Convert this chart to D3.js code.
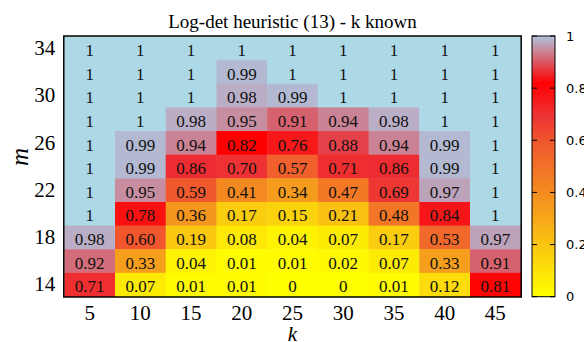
<!DOCTYPE html>
<html>
<head>
<meta charset="utf-8">
<script src="https://cdn.jsdelivr.net/npm/d3@7"></script>
<style>
  body { margin: 0; background: #fff; }
  svg { display: block; }
</style>
</head>
<body>
<svg id="chart" width="584" height="342"></svg>
<script>
const kValues = [5, 10, 15, 20, 25, 30, 35, 40, 45];
const mValues = [34, 32, 30, 28, 26, 24, 22, 20, 18, 16, 14];
const mTickLabels = [34, 30, 26, 22, 18, 14];
const cbTicks = [0, 0.2, 0.4, 0.6, 0.8, 1];

// one row per m, top (34) to bottom (14), columns follow kValues
const successRate = [
  [1, 1, 1, 1, 1, 1, 1, 1, 1],
  [1, 1, 1, 0.99, 1, 1, 1, 1, 1],
  [1, 1, 1, 0.98, 0.99, 1, 1, 1, 1],
  [1, 1, 0.98, 0.95, 0.91, 0.94, 0.98, 1, 1],
  [1, 0.99, 0.94, 0.82, 0.76, 0.88, 0.94, 0.99, 1],
  [1, 0.99, 0.86, 0.70, 0.57, 0.71, 0.86, 0.99, 1],
  [1, 0.95, 0.59, 0.41, 0.34, 0.47, 0.69, 0.97, 1],
  [1, 0.78, 0.36, 0.17, 0.15, 0.21, 0.48, 0.84, 1],
  [0.98, 0.60, 0.19, 0.08, 0.04, 0.07, 0.17, 0.53, 0.97],
  [0.92, 0.33, 0.04, 0.01, 0.01, 0.02, 0.07, 0.33, 0.91],
  [0.71, 0.07, 0.01, 0.01, 0, 0, 0.01, 0.12, 0.81]
];

const paletteStops = [0, 0.36, 0.58, 0.70, 0.82, 1];
const paletteColors = ["#ffff00", "#f5961e", "#f05c2d", "#ee3234", "#ff0000", "#b0c4de"];

const svg = d3.select("#chart");
const plot = { left: 64.3, right: 520.7, top: 36.5, bottom: 296.5 };
const serif = "'Liberation Serif', 'Times New Roman', serif";

const x = d3.scaleBand().domain(kValues).range([plot.left, plot.right]);
const y = d3.scaleBand().domain(mValues).range([plot.top, plot.bottom]);
const color = d3.scaleLinear().domain(paletteStops).range(paletteColors)
  .interpolate(d3.interpolateRgb);
const cellColor = v => v >= 1 ? "#add8e6" : color(v);
const fmt = v => (v === 0 || v === 1) ? String(v) : v.toFixed(2);

const cells = [];
successRate.forEach((row, i) => row.forEach((v, j) => {
  cells.push({ m: mValues[i], k: kValues[j], v: v });
}));

// cells
svg.append("g")
  .selectAll("rect")
  .data(cells)
  .join("rect")
  .attr("x", d => x(d.k))
  .attr("y", d => y(d.m))
  .attr("width", x.bandwidth() + 0.5)
  .attr("height", y.bandwidth() + 0.5)
  .attr("fill", d => cellColor(d.v));

svg.append("g")
  .selectAll("text")
  .data(cells)
  .join("text")
  .attr("x", d => x(d.k) + x.bandwidth() / 2)
  .attr("y", d => y(d.m) + y.bandwidth() / 2)
  .attr("dy", "0.45em")
  .attr("text-anchor", "middle")
  .style("font-family", serif)
  .style("font-size", "17px")
  .attr("fill", "#111")
  .text(d => fmt(d.v));

// frame
svg.append("rect")
  .attr("x", plot.left - 0.5)
  .attr("y", plot.top - 0.5)
  .attr("width", plot.right - plot.left + 1)
  .attr("height", plot.bottom - plot.top + 1)
  .attr("fill", "none")
  .attr("stroke", "#000")
  .attr("stroke-width", 1.5);

// axes
const xAxis = svg.append("g")
  .attr("transform", `translate(0,${plot.bottom})`)
  .call(d3.axisBottom(x).tickSize(0).tickPadding(9));
const yAxis = svg.append("g")
  .attr("transform", `translate(${plot.left},0)`)
  .call(d3.axisLeft(y).tickValues(mTickLabels).tickSize(0).tickPadding(9));
[xAxis, yAxis].forEach(a => {
  a.select(".domain").remove();
  a.selectAll("text")
    .style("font-family", serif)
    .style("font-size", "21px")
    .attr("fill", "#000");
});

svg.append("text")
  .attr("x", (plot.left + plot.right) / 2)
  .attr("y", 28)
  .attr("text-anchor", "middle")
  .style("font-family", serif)
  .style("font-size", "19px")
  .text("Log-det heuristic (13) - k known");

svg.append("text")
  .attr("x", (plot.left + plot.right) / 2)
  .attr("y", 341)
  .attr("text-anchor", "middle")
  .style("font-family", serif)
  .style("font-size", "21px")
  .style("font-style", "italic")
  .text("k");

svg.append("text")
  .attr("transform", "translate(28,157) rotate(-90)")
  .attr("text-anchor", "middle")
  .style("font-family", serif)
  .style("font-size", "25px")
  .style("font-style", "italic")
  .text("m");

// colorbar
const cb = { x: 532, w: 23, top: 36, bottom: 296.7 };
const cbScale = d3.scaleLinear().domain([0, 1]).range([cb.bottom, cb.top]);

const grad = svg.append("defs").append("linearGradient")
  .attr("id", "cbGrad")
  .attr("x1", 0).attr("y1", 1).attr("x2", 0).attr("y2", 0);
grad.selectAll("stop")
  .data(d3.range(0, 1.0001, 0.02))
  .join("stop")
  .attr("offset", d => d)
  .attr("stop-color", d => color(d));

svg.append("rect")
  .attr("x", cb.x)
  .attr("y", cb.top)
  .attr("width", cb.w)
  .attr("height", cb.bottom - cb.top)
  .attr("fill", "url(#cbGrad)")
  .attr("stroke", "#000")
  .attr("stroke-width", 1);

const cbT = svg.append("g");
cbT.selectAll("line.l")
  .data(cbTicks)
  .join("line")
  .attr("class", "l")
  .attr("x1", cb.x).attr("x2", cb.x + 5)
  .attr("y1", d => cbScale(d)).attr("y2", d => cbScale(d))
  .attr("stroke", "#000");
cbT.selectAll("line.r")
  .data(cbTicks)
  .join("line")
  .attr("class", "r")
  .attr("x1", cb.x + cb.w - 5).attr("x2", cb.x + cb.w)
  .attr("y1", d => cbScale(d)).attr("y2", d => cbScale(d))
  .attr("stroke", "#000");
cbT.selectAll("text")
  .data(cbTicks)
  .join("text")
  .attr("x", 566)
  .attr("y", d => cbScale(d))
  .attr("dy", "0.35em")
  .style("font-family", "'DejaVu Sans', sans-serif")
  .style("font-size", "13px")
  .text(d => String(d));
</script>
</body>
</html>
